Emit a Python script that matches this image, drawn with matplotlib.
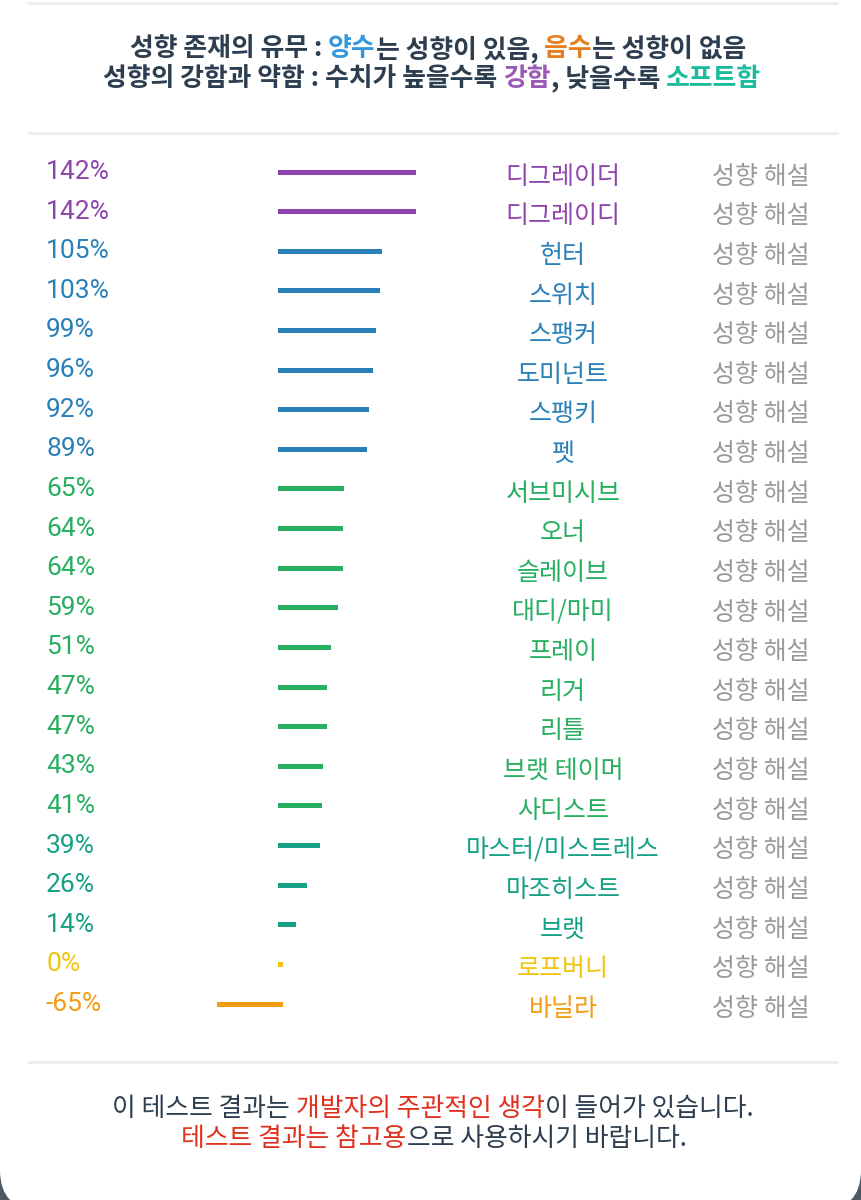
import matplotlib
matplotlib.use('Agg')
import matplotlib.pyplot as plt
import matplotlib.transforms as mtransforms
from matplotlib.patches import FancyBboxPatch

plt.rcParams['font.family'] = ['Noto Sans CJK KR', 'DejaVu Sans']

# data
names = ['디그레이더', '디그레이디', '헌터', '스위치', '스팽커', '도미넌트', '스팽키', '펫',
         '서브미시브', '오너', '슬레이브', '대디/마미', '프레이', '리거', '리틀', '브랫 테이머',
         '사디스트', '마스터/미스트레스', '마조히스트', '브랫', '로프버니', '바닐라']
values = [142, 142, 105, 103, 99, 96, 92, 89, 65, 64, 64, 59, 51, 47, 47, 43, 41, 39, 26, 14, 0, -65]
groups = ['purple', 'purple', 'blue', 'blue', 'blue', 'blue', 'blue', 'blue',
          'green', 'green', 'green', 'green', 'green', 'green', 'green', 'green', 'green',
          'teal', 'teal', 'teal', 'yellow', 'orange']
link_text = '성향 해설'

palette = {'purple': '#8e44ad', 'blue': '#2980b9', 'green': '#27ae60',
           'teal': '#16a085', 'yellow': '#f1c40f', 'orange': '#f39c12'}
dark = '#2c3e50'
red = '#e0301e'

header = [
    [('성향 존재의 유무 : ', dark), ('양수', '#3498db'), ('는 성향이 있음, ', dark),
     ('음수', '#e67e22'), ('는 성향이 없음', dark)],
    [('성향의 강함과 약함 : 수치가 높을수록 ', dark), ('강함', '#9b59b6'),
     (', 낮을수록 ', dark), ('소프트함', '#1abc9c')],
]
footer = [
    [('이 테스트 결과는 ', dark), ('개발자의 주관적인 생각', red), ('이 들어가 있습니다.', dark)],
    [('테스트 결과는 참고용', red), ('으로 사용하시기 바랍니다.', dark)],
]

W, H = 861, 1200
fig = plt.figure(figsize=(W / 100, H / 100), dpi=100)
fig.patch.set_facecolor('#4e5a63')

# background layer in pixel coordinates
bg = fig.add_axes([0, 0, 1, 1])
bg.set_xlim(0, W)
bg.set_ylim(H, 0)
bg.axis('off')
bg.add_patch(FancyBboxPatch((0, -60), W, H + 70, boxstyle='round,pad=0,rounding_size=40',
                            fc='white', ec='none'))
for yy in [3, 133, 1062]:
    bg.plot([27, 838], [yy, yy], color='#eeeeee', lw=2.2, solid_capstyle='butt')

renderer = fig.canvas.get_renderer()


def rich_line(y, parts, cx, size, weight):
    probe = bg.text(0, y, '|', fontsize=size, fontweight=weight)
    wbar = probe.get_window_extent(renderer).width
    offsets = []
    full = ''
    for s, c in parts:
        probe.set_text(full + '|')
        offsets.append(probe.get_window_extent(renderer).width - wbar)
        full += s
    probe.set_text(full)
    total = probe.get_window_extent(renderer).width
    probe.remove()
    x0 = cx - total / 2
    for (s, c), off in zip(parts, offsets):
        bg.text(x0 + off, y, s, color=c, fontsize=size, fontweight=weight,
                ha='left', va='center')


rich_line(49, header[0], 438, 18.6, 'bold')
rich_line(79, header[1], 432, 18.6, 'bold')
rich_line(1108, footer[0], 433, 18.6, 'normal')
rich_line(1138, footer[1], 434, 18.6, 'normal')

# bar layer: x in percent, y in rows
ax = fig.add_axes([0, 0, 1, 1])
ax.patch.set_alpha(0)
ax.axis('off')
px_per_pct = 0.94
zero_px = 280.5
row_px = 39.62
first_px = 172
ax.set_xlim(-zero_px / px_per_pct, (W - zero_px) / px_per_pct)
ax.set_ylim((H - first_px) / row_px, -first_px / row_px)

rows = list(range(len(values)))
cols = [palette[g] for g in groups]
pad = 2.5 / px_per_pct  # bars stick out a little past both ends
lefts = [min(0, v) - pad for v in values]
widths = [abs(v) + 2 * pad for v in values]
ax.barh(rows, widths, left=lefts, height=5 / row_px, color=cols, linewidth=0)

tr = mtransforms.blended_transform_factory(ax.transAxes, ax.transData)
for i, (n, v, c) in enumerate(zip(names, values, cols)):
    ax.text(46 / W, i + 0.0, f'{v}%', transform=tr, color=c, fontsize=19,
            family=['Roboto', 'Noto Sans CJK KR'], ha='left', va='center')
    ax.text(563 / W, i + 0.12, n, transform=tr, color=c, fontsize=18,
            ha='center', va='center')
    ax.text(761 / W, i + 0.12, link_text, transform=tr, color='#9a9a9a', fontsize=18,
            ha='center', va='center')

fig.savefig('out.png', dpi=100, facecolor=fig.get_facecolor())
